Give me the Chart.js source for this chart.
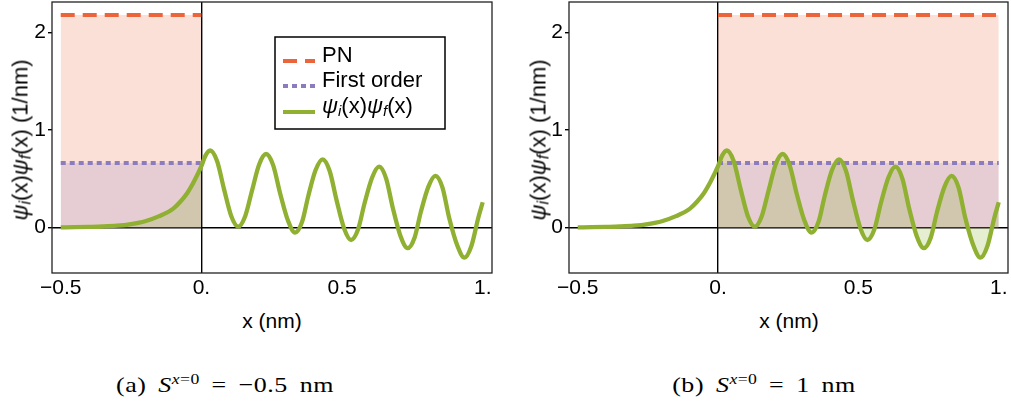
<!DOCTYPE html>
<html lang="en">

<head>
    <meta charset="UTF-8">
    <script src="https://cdn.jsdelivr.net/npm/chart.js"></script>
    <title>Overlap</title>
    <style>
        body { margin: 0; background: #fff; width: 1011px; height: 402px; position: relative; overflow: hidden; }
        canvas { position: absolute; top: 0; }
        #chartA { left: 0; }
        #chartB { left: 505px; }
        .ytit { position: absolute; font-family: "Liberation Sans", Arial, sans-serif; font-size: 22px; color: #000;
                white-space: nowrap; transform: translate(-50%, -50%) rotate(-90deg); top: 140px; }
        .ytit sub { font-size: 16px; vertical-align: -3px; }
        .xtit { position: absolute; font-family: "Liberation Sans", Arial, sans-serif; font-size: 21px; color: #000;
                transform: translateX(-50%); top: 309px; white-space: nowrap; }
        .cap { position: absolute; font-family: "Liberation Serif", "DejaVu Serif", serif; font-size: 22px; color: #000;
               transform: translateX(-50%) scaleX(1.18); top: 371px; white-space: nowrap; letter-spacing: 0.5px; word-spacing: 4px; }
        .cap sup { font-size: 15px; vertical-align: 8px; letter-spacing: 0.3px; }
    </style>
</head>

<body>
    <canvas id="chartA" width="505" height="300"></canvas>
    <canvas id="chartB" width="506" height="300"></canvas>
    <div class="ytit" style="left:21px"><i>ψ</i><sub><i>i</i></sub>(x)<i>ψ</i><sub><i>f</i></sub>(x) (1/nm)</div>
    <div class="ytit" style="left:539px"><i>ψ</i><sub><i>i</i></sub>(x)<i>ψ</i><sub><i>f</i></sub>(x) (1/nm)</div>
    <div class="xtit" style="left:272px">x (nm)</div>
    <div class="xtit" style="left:789px">x (nm)</div>
    <div class="cap" style="left:225px">(a) <i>S</i><sup><i>x</i>=0</sup> = −0.5 nm</div>
    <div class="cap" style="left:764px">(b) <i>S</i><sup><i>x</i>=0</sup> = 1 nm</div>
</body>

</html>
<script>
    // valores
    const curveX = [-0.5, -0.45, -0.4, -0.35, -0.3, -0.25, -0.2, -0.15, -0.1, -0.075, -0.05, -0.025, 0,
        0.015, 0.031, 0.056, 0.08, 0.106, 0.131, 0.156, 0.18, 0.205, 0.23, 0.255, 0.28, 0.308, 0.333, 0.358,
        0.38, 0.406, 0.431, 0.456, 0.48, 0.507, 0.532, 0.557, 0.58, 0.607, 0.632, 0.657, 0.68,
        0.708, 0.733, 0.758, 0.78, 0.807, 0.832, 0.857, 0.88, 0.91, 0.935, 0.96, 0.985, 1.0];
    const curveY = [0.003, 0.005, 0.008, 0.012, 0.02, 0.037, 0.066, 0.118, 0.195, 0.265, 0.355, 0.48, 0.63,
        0.74, 0.79, 0.68, 0.40, 0.12, 0.01, 0.12, 0.38, 0.645, 0.754, 0.64, 0.35, 0.07, -0.05, 0.06,
        0.325, 0.59, 0.70, 0.58, 0.287, -0.005, -0.126, -0.016, 0.25, 0.514, 0.624, 0.50, 0.207,
        -0.088, -0.21, -0.10, 0.16, 0.42, 0.53, 0.41, 0.11, -0.185, -0.307, -0.185, 0.11, 0.26];
    const pnValue = 2.177;
    const firstOrderValue = 0.662;
    const regionA = [-0.5, 0];
    const regionB = [0, 1];
    const xTicks = [-0.5, 0, 0.5, 1];
    const xTickLabels = ['−0.5', '0.', '0.5', '1.'];
    const yTicks = [0, 1, 2];
    const yTickLabels = ['0', '1', '2'];

    const corPN = 'rgb(236,100,58)';
    const corFirst = 'rgb(140,124,190)';
    const corCurva = 'rgb(143,176,49)';
    const fonte = '"Liberation Sans", Arial, sans-serif';

    const curve = curveX.map((x, i) => ({ x: x, y: curveY[i] }));

    // moldura e legenda
    const moldura = {
        id: 'moldura',
        afterDraw(chart, args, opts) {
            const a = chart.chartArea;
            const c = chart.ctx;
            c.save();
            c.strokeStyle = '#222';
            c.lineWidth = 1.3;
            c.strokeRect(a.left, a.top, a.right - a.left, a.bottom - a.top);
            if (opts.legenda) {
                c.fillStyle = '#fff';
                c.fillRect(275, 37, 170, 92);
                c.lineWidth = 1.5;
                c.strokeStyle = '#000';
                c.strokeRect(275, 37, 170, 92);
                c.lineWidth = 4;
                c.strokeStyle = corPN; c.setLineDash([14, 8]);
                c.beginPath(); c.moveTo(283, 61); c.lineTo(315, 61); c.stroke();
                c.strokeStyle = corFirst; c.setLineDash([5, 4]);
                c.beginPath(); c.moveTo(283, 86); c.lineTo(315, 86); c.stroke();
                c.strokeStyle = corCurva; c.setLineDash([]);
                c.beginPath(); c.moveTo(283, 112); c.lineTo(315, 112); c.stroke();
                c.fillStyle = '#000';
                c.textBaseline = 'middle';
                c.font = '22px ' + fonte;
                c.fillText('PN', 322, 56);
                c.fillText('First order', 322, 81);
                // psi_i(x) psi_f(x)
                let x = 322;
                const y = 107;
                const parte = (t, f, dy) => { c.font = f; c.fillText(t, x, y + dy); x += c.measureText(t).width; };
                parte('ψ', 'italic 22px ' + fonte, 0);
                parte('i', 'italic 15px ' + fonte, 5);
                parte('(x)', '22px ' + fonte, 0);
                parte('ψ', 'italic 22px ' + fonte, 0);
                parte('f', 'italic 15px ' + fonte, 5);
                parte('(x)', '22px ' + fonte, 0);
            }
            c.restore();
        }
    };

    function montar(id, regiao, legenda, larguraY, padDir) {
        const dentro = curve.filter(p => p.x >= regiao[0] && p.x <= regiao[1]);
        return new Chart(document.getElementById(id), {
            type: 'line',
            data: {
                datasets: [
                    { data: [{ x: regiao[0], y: pnValue }, { x: regiao[1], y: pnValue }], borderWidth: 0,
                      fill: 'origin', backgroundColor: 'rgba(236,100,58,0.2)', pointRadius: 0, order: 6 },
                    { data: [{ x: regiao[0], y: firstOrderValue }, { x: regiao[1], y: firstOrderValue }], borderWidth: 0,
                      fill: 'origin', backgroundColor: 'rgba(140,124,190,0.2)', pointRadius: 0, order: 5 },
                    { data: dentro, borderWidth: 0, fill: 'origin', backgroundColor: 'rgba(143,176,49,0.22)',
                      pointRadius: 0, cubicInterpolationMode: 'monotone', order: 4 },
                    { data: [{ x: regiao[0], y: pnValue }, { x: regiao[1], y: pnValue }], borderColor: corPN,
                      borderWidth: 4, borderDash: [14, 8], fill: false, pointRadius: 0, order: 3 },
                    { data: [{ x: regiao[0], y: firstOrderValue }, { x: regiao[1], y: firstOrderValue }], borderColor: corFirst,
                      borderWidth: 4, borderDash: [5, 4], fill: false, pointRadius: 0, order: 2 },
                    { data: curve, borderColor: corCurva, borderWidth: 4.3, fill: false, pointRadius: 0,
                      cubicInterpolationMode: 'monotone', order: 1 }
                ]
            },
            options: {
                responsive: false,
                animation: false,
                events: [],
                layout: { padding: { top: 2, right: padDir, left: 0, bottom: 0 } },
                plugins: { legend: { display: false }, tooltip: { enabled: false }, moldura: { legenda: legenda } },
                scales: {
                    x: {
                        type: 'linear', min: -0.531, max: 1.033,
                        afterFit: s => { s.height = 27; s.paddingLeft = 0; s.paddingRight = 0; },
                        afterBuildTicks: s => { s.ticks = xTicks.map(v => ({ value: v })); },
                        ticks: { callback: v => xTickLabels[xTicks.indexOf(v)], color: '#000', padding: 3,
                                 font: { family: fonte, size: 21 }, maxRotation: 0, autoSkip: false },
                        grid: { drawTicks: false, lineWidth: 1.4, color: c => c.tick && c.tick.value === 0 ? '#000' : 'rgba(0,0,0,0)' },
                        border: { display: false }
                    },
                    y: {
                        type: 'linear', min: -0.464, max: 2.31,
                        afterFit: s => { s.width = larguraY; s.paddingTop = 0; s.paddingBottom = 0; },
                        afterBuildTicks: s => { s.ticks = yTicks.map(v => ({ value: v })); },
                        ticks: { callback: v => yTickLabels[yTicks.indexOf(v)], color: '#000', padding: 2,
                                 font: { family: fonte, size: 21 } },
                        grid: { tickLength: 4, tickColor: '#000', lineWidth: 1.4,
                                color: c => c.tick && c.tick.value === 0 ? '#000' : 'rgba(0,0,0,0)' },
                        border: { display: false }
                    }
                }
            },
            plugins: [moldura]
        });
    }

    montar('chartA', regionA, true, 52, 13);
    montar('chartB', regionB, false, 64, 3);
</script>
